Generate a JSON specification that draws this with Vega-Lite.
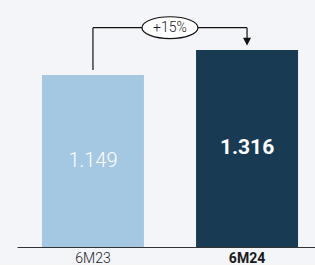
{
  "$schema": "https://vega.github.io/schema/vega-lite/v6.json",
  "width": 306,
  "height": 247,
  "padding": {"left": 17, "top": 0, "right": 0, "bottom": 0},
  "background": "#f4f5f8",
  "config": {"view": {"stroke": null}, "font": "Roboto"},
  "data": {"values": [
    {"period": "6M23", "value": 1.149},
    {"period": "6M24", "value": 1.316}
  ]},
  "encoding": {
    "x": {
      "field": "period", "type": "nominal", "sort": null,
      "scale": {"paddingInner": 0.338, "paddingOuter": 0.162},
      "axis": {
        "title": null, "ticks": false, "labelAngle": 0, "domainColor": "#333333",
        "domainWidth": 1, "labelColor": "#1a1a1a", "labelFontSize": 14, "labelPadding": 4,
        "labelFont": "Roboto",
        "labelFontWeight": {"condition": {"test": "datum.value == '6M24'", "value": "bold"}, "value": 300}
      }
    }
  },
  "layer": [
    {
      "mark": {"type": "bar"},
      "encoding": {
        "y": {"field": "value", "type": "quantitative", "scale": {"domain": [0, 1.65], "nice": false}, "axis": null},
        "color": {"field": "period", "type": "nominal", "scale": {"domain": ["6M23", "6M24"], "range": ["#a5c8e2", "#183a52"]}, "legend": null}
      }
    },
    {
      "transform": [{"filter": "datum.period == '6M23'"}, {"calculate": "datum.value / 2", "as": "mid"}],
      "mark": {"type": "text", "color": "white", "baseline": "middle", "font": "Roboto", "fontSize": 20, "fontWeight": 300},
      "encoding": {
        "y": {"field": "mid", "type": "quantitative"},
        "text": {"field": "value", "type": "nominal"}
      }
    },
    {
      "transform": [{"filter": "datum.period == '6M24'"}, {"calculate": "datum.value / 2", "as": "mid"}],
      "mark": {"type": "text", "color": "white", "baseline": "middle", "font": "Roboto", "fontSize": 21, "fontWeight": "bold"},
      "encoding": {
        "y": {"field": "mid", "type": "quantitative"},
        "text": {"field": "value", "type": "nominal"}
      }
    },
    {
      "data": {"values": [
        {"period": "6M23", "period2": "6M23", "y1": 1.182, "y2": 1.465},
        {"period": "6M23", "period2": "6M24", "y1": 1.465, "y2": 1.465},
        {"period": "6M24", "period2": "6M24", "y1": 1.465, "y2": 1.39}
      ]},
      "mark": {"type": "rule", "color": "#111111", "strokeWidth": 1.2},
      "encoding": {
        "x": {"field": "period", "type": "nominal"},
        "x2": {"field": "period2"},
        "y": {"field": "y1", "type": "quantitative"},
        "y2": {"field": "y2"}
      }
    },
    {
      "data": {"values": [{"period": "6M24", "y": 1.373}]},
      "mark": {"type": "point", "shape": "M -1,-0.9 L 1,-0.9 L 0,1 Z", "filled": true, "color": "#111111", "size": 64, "opacity": 1},
      "encoding": {
        "x": {"field": "period", "type": "nominal"},
        "y": {"field": "y", "type": "quantitative"}
      }
    },
    {
      "data": {"values": [{"period": "6M23", "y": 1.465, "label": "+15%"}]},
      "mark": {"type": "point", "shape": "M -1,0 C -1,-0.215 -0.552,-0.39 0,-0.39 C 0.552,-0.39 1,-0.215 1,0 C 1,0.215 0.552,0.39 0,0.39 C -0.552,0.39 -1,0.215 -1,0 Z", "filled": false, "fill": "white", "fillOpacity": 1, "stroke": "#111111", "strokeWidth": 1.2, "size": 3136, "opacity": 1},
      "encoding": {
        "x": {"field": "period", "type": "nominal", "bandPosition": 1.255},
        "y": {"field": "y", "type": "quantitative"}
      }
    },
    {
      "data": {"values": [{"period": "6M23", "y": 1.465, "label": "+15%"}]},
      "mark": {"type": "text", "fontSize": 14, "fontWeight": 300, "color": "#1a1a1a", "baseline": "middle", "font": "Roboto"},
      "encoding": {
        "x": {"field": "period", "type": "nominal", "bandPosition": 1.255},
        "y": {"field": "y", "type": "quantitative"},
        "text": {"field": "label"}
      }
    }
  ]
}
